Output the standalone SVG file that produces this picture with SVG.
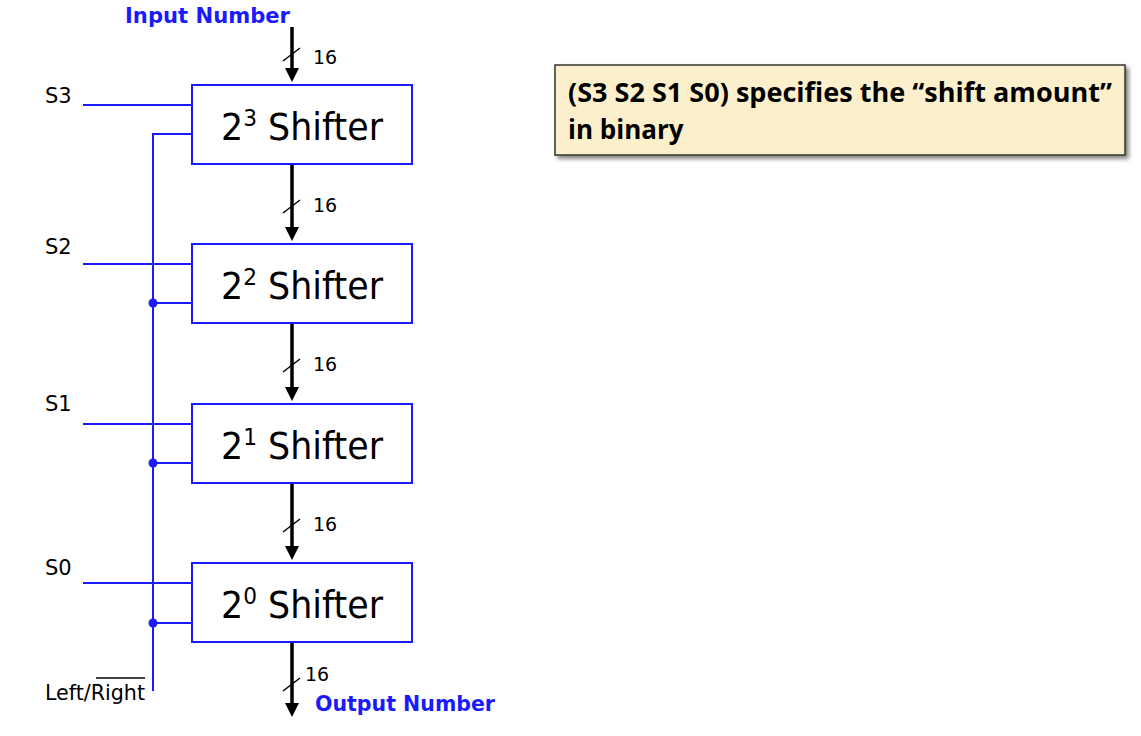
<svg xmlns="http://www.w3.org/2000/svg" width="1141" height="736" viewBox="0 0 1141 736">
<style>
.box{fill:#fff;stroke:#1a1aff;stroke-width:2}
.bl{stroke:#1a1aff;stroke-width:2;fill:none}
.bus{stroke:#000;stroke-width:3.5;fill:none}
.sl{stroke:#000;stroke-width:1.5}
.lab{font-family:"DejaVu Sans",sans-serif;font-size:21px;fill:#000}
.w{font-family:"DejaVu Sans",sans-serif;font-size:19px;fill:#000}
.sh{font-family:"DejaVu Sans",sans-serif;font-size:37px;fill:#000}
.sup{font-size:23px}
.io{font-family:"DejaVu Sans",sans-serif;font-weight:bold;font-size:21px;fill:#1a1aff}
.note{font-family:"Open Sans","Liberation Sans",sans-serif;font-weight:bold;font-size:26px;fill:#000}
</style>
<defs>
<marker id="ah" markerWidth="4" markerHeight="4" refX="2" refY="2" orient="auto" markerUnits="strokeWidth" viewBox="0 0 4 4">
<path d="M0,0 L4,2 L0,4 z" fill="#000"/>
</marker>
<filter id="shd" x="-5%" y="-10%" width="115%" height="130%">
<feDropShadow dx="3" dy="3" stdDeviation="2" flood-color="#000" flood-opacity="0.5"/>
</filter>
</defs>

<g id="connectors">
<path class="bl" d="M83,105 H192 M83,264 H192 M83,424 H192 M83,583 H192"/>
<path class="bl" d="M153,691 V134 H192 M153,303 H192 M153,463 H192 M153,623 H192"/>
<circle cx="153" cy="303" r="4.5" fill="#1a1aff"/>
<circle cx="153" cy="463" r="4.5" fill="#1a1aff"/>
<circle cx="153" cy="623" r="4.5" fill="#1a1aff"/>
<path class="bus" d="M292,27 V75" marker-end="url(#ah)"/>
<path class="bus" d="M292,164 V234" marker-end="url(#ah)"/>
<path class="bus" d="M292,323 V394" marker-end="url(#ah)"/>
<path class="bus" d="M292,483 V553" marker-end="url(#ah)"/>
<path class="bus" d="M292,642 V710" marker-end="url(#ah)"/>
<path class="sl" d="M283,61 L300,48 M283,213 L300,200 M283,372 L300,359 M283,532 L300,519 M283,691 L300,678"/>
<text class="w" x="313" y="64">16</text>
<text class="w" x="313" y="212">16</text>
<text class="w" x="313" y="371">16</text>
<text class="w" x="313" y="531">16</text>
<text class="w" x="305" y="681">16</text>
</g>

<g id="input"><text class="io" x="125" y="23" textLength="165" lengthAdjust="spacingAndGlyphs">Input Number</text></g>
<g id="output"><text class="io" x="315" y="711" textLength="180" lengthAdjust="spacingAndGlyphs">Output Number</text></g>

<g id="s3"><text class="lab" x="45" y="103">S3</text></g>
<g id="s2"><text class="lab" x="45" y="254">S2</text></g>
<g id="s1"><text class="lab" x="45" y="411">S1</text></g>
<g id="s0"><text class="lab" x="45" y="575">S0</text></g>
<g id="lr"><text class="lab" x="45" y="700" textLength="100" lengthAdjust="spacingAndGlyphs">Left/Right</text>
<line x1="96" y1="678" x2="145" y2="678" stroke="#000" stroke-width="1.5"/></g>

<g id="shifter3"><rect class="box" x="192" y="85" width="220" height="79"/>
<text class="sh" x="221" y="140" textLength="162" lengthAdjust="spacingAndGlyphs">2<tspan class="sup" dy="-14">3</tspan><tspan dy="14"> Shifter</tspan></text></g>
<g id="shifter2"><rect class="box" x="192" y="244" width="220" height="79"/>
<text class="sh" x="221" y="299" textLength="162" lengthAdjust="spacingAndGlyphs">2<tspan class="sup" dy="-14">2</tspan><tspan dy="14"> Shifter</tspan></text></g>
<g id="shifter1"><rect class="box" x="192" y="404" width="220" height="79"/>
<text class="sh" x="221" y="459" textLength="162" lengthAdjust="spacingAndGlyphs">2<tspan class="sup" dy="-14">1</tspan><tspan dy="14"> Shifter</tspan></text></g>
<g id="shifter0"><rect class="box" x="192" y="563" width="220" height="79"/>
<text class="sh" x="221" y="618" textLength="162" lengthAdjust="spacingAndGlyphs">2<tspan class="sup" dy="-14">0</tspan><tspan dy="14"> Shifter</tspan></text></g>

<g id="note">
<rect x="555" y="65" width="570" height="90" fill="#fcf0cc" stroke="#333" stroke-width="1.5" filter="url(#shd)"/>
<text class="note" x="568" y="102" textLength="544" lengthAdjust="spacingAndGlyphs">(S3 S2 S1 S0) specifies the “shift amount”</text>
<text class="note" x="568" y="139">in binary</text>
</g>
</svg>
